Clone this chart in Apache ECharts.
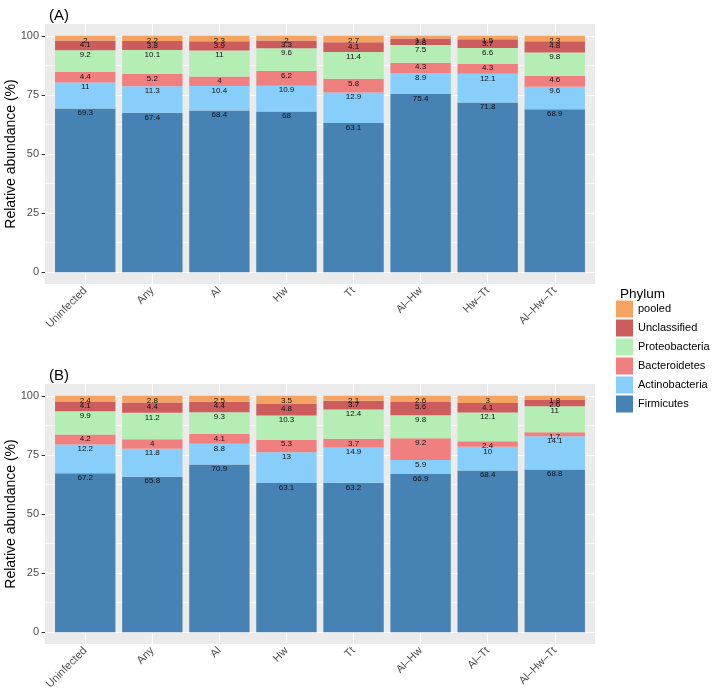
<!DOCTYPE html>
<html>
<head>
<meta charset="utf-8">
<script src="https://cdn.jsdelivr.net/npm/echarts@6/dist/echarts.min.js"></script>
<style>html,body{margin:0;padding:0;background:#fff}#c{width:716px;height:695px}</style>
</head>
<body>
<div id="c"></div>
<script>
const categoriesA = ['Uninfected','Any','Al','Hw','Tt','Al–Hw','Hw–Tt','Al–Hw–Tt'];
const categoriesB = ['Uninfected','Any','Al','Hw','Tt','Al–Hw','Al–Tt','Al–Hw–Tt'];
const phyla = ['Firmicutes','Actinobacteria','Bacteroidetes','Proteobacteria','Unclassified','pooled'];
const legendOrder = ['pooled','Unclassified','Proteobacteria','Bacteroidetes','Actinobacteria','Firmicutes'];
const phylumColors = {Firmicutes:'#4682B4',Actinobacteria:'#87CEFA',Bacteroidetes:'#F08080',Proteobacteria:'#B4EEB4',Unclassified:'#CD5C5C',pooled:'#F4A460'};

const firmicutesA = [69.3,67.4,68.4,68,63.1,75.4,71.8,68.9];
const actinobacteriaA = [11,11.3,10.4,10.9,12.9,8.9,12.1,9.6];
const bacteroidetesA = [4.4,5.2,4,6.2,5.8,4.3,4.3,4.6];
const proteobacteriaA = [9.2,10.1,11,9.6,11.4,7.5,6.6,9.8];
const unclassifiedA = [4.1,3.8,3.9,3.3,4.1,2.8,3.7,4.8];
const pooledA = [2,2.2,2.3,2,2.7,1.1,1.5,2.3];

const firmicutesB = [67.2,65.8,70.9,63.1,63.2,66.9,68.4,68.8];
const actinobacteriaB = [12.2,11.8,8.8,13,14.9,5.9,10,14.1];
const bacteroidetesB = [4.2,4,4.1,5.3,3.7,9.2,2.4,1.7];
const proteobacteriaB = [9.9,11.2,9.3,10.3,12.4,9.8,12.1,11];
const unclassifiedB = [4.1,4.4,4.4,4.8,3.7,5.6,4.1,2.6];
const pooledB = [2.4,2.8,2.5,3.5,2.1,2.6,3,1.8];

const yTicks = [0,25,50,75,100];
const yTickLabels = ['0','25','50','75','100'];

const panelA = [firmicutesA,actinobacteriaA,bacteroidetesA,proteobacteriaA,unclassifiedA,pooledA];
const panelB = [firmicutesB,actinobacteriaB,bacteroidetesB,proteobacteriaB,unclassifiedB,pooledB];

const FONT = 'Liberation Sans';
const chart = echarts.init(document.getElementById('c'), null, {renderer:'canvas'});

const catsList = [categoriesA, categoriesB];
const panelLeft = 45, panelWidth = 550, panelHeight = 260, panelTops = [24, 384];
const expand = 0.6; // ggplot discrete expansion
const unit = panelWidth / (categoriesA.length - 1 + 2 * expand);

const grids = [], xAxes = [], yAxes = [], series = [];
panelTops.forEach((top, i) => {
  grids.push({left:panelLeft, top:top, width:panelWidth, height:panelHeight, show:true,
    backgroundColor:'#EBEBEB', borderWidth:0, outerBoundsMode:'none', containLabel:false, z:0});
});
panelTops.forEach((top, i) => {
  const n = catsList[i].length;
  grids.push({left:panelLeft + (expand - 0.5) * unit, top:top, width:n * unit, height:panelHeight,
    show:false, outerBoundsMode:'none', containLabel:false});
});

[0,1].forEach(i => {
  const cats = catsList[i];
  xAxes.push({type:'value', gridIndex:i, min:1 - expand, max:cats.length + expand,
    axisLine:{show:false}, splitLine:{show:false}, axisTick:{show:false}, axisLabel:{show:false}});
  yAxes.push({type:'value', gridIndex:i, min:-5, max:105,
    name:'Relative abundance (%)', nameLocation:'middle', nameGap:27, nameMoveOverlap:false,
    nameTextStyle:{fontSize:14, color:'#000', fontFamily:FONT},
    axisLine:{show:false}, splitLine:{show:false},
    axisTick:{show:true, customValues:yTicks, length:3.5, lineStyle:{color:'#333333', width:1}},
    axisLabel:{show:true, customValues:yTicks, margin:6, color:'#4D4D4D', fontSize:11, fontFamily:FONT,
      formatter:(v) => yTickLabels[yTicks.indexOf(v)]}});
});
[0,1].forEach(i => {
  const cats = catsList[i];
  xAxes.push({type:'category', gridIndex:2 + i, data:cats, boundaryGap:true,
    axisLine:{show:false}, splitLine:{show:false},
    axisTick:{show:true, alignWithLabel:true, interval:0, length:3.5, lineStyle:{color:'#333333', width:1}},
    axisLabel:{show:true, interval:0, rotate:45, margin:5, color:'#4D4D4D', fontSize:11, fontFamily:FONT}});
  yAxes.push({type:'value', gridIndex:2 + i, min:-5, max:105,
    axisLine:{show:false}, splitLine:{show:false}, axisTick:{show:false}, axisLabel:{show:false}});
});

[0,1].forEach(i => {
  const cats = catsList[i];
  const minor = [];
  for (let k = 0; k < yTicks.length - 1; k++) minor.push((yTicks[k] + yTicks[k+1]) / 2);
  series.push({
    type:'line', xAxisIndex:i, yAxisIndex:i, data:[], z:1, silent:true,
    markLine:{
      z:1, silent:true, symbol:'none', animation:false, label:{show:false},
      emphasis:{disabled:true},
      data: [
        ...minor.map(v => ({yAxis:v, lineStyle:{color:'#FFFFFF', width:0.6, type:'solid'}})),
        ...yTicks.map(v => ({yAxis:v, lineStyle:{color:'#FFFFFF', width:1.1, type:'solid'}})),
        ...cats.map((_, k) => ({xAxis:k + 1, lineStyle:{color:'#FFFFFF', width:1.1, type:'solid'}}))
      ]
    }
  });
});

[panelA, panelB].forEach((panel, i) => {
  phyla.forEach((ph, j) => {
    series.push({
      name:ph, type:'bar', stack:'s' + i, xAxisIndex:2 + i, yAxisIndex:2 + i, z:3,
      barWidth:'90%',
      itemStyle:{color:phylumColors[ph]},
      label:{show:true, position:'insideTop', distance:0.5, color:'#111', fontSize:8, fontFamily:FONT},
      emphasis:{disabled:true},
      data: panel[j]
    });
  });
});

chart.setOption({
  animation:false,
  backgroundColor:'#FFFFFF',
  textStyle:{fontFamily:FONT},
  title:[
    {text:'(A)', left:44, top:3, textStyle:{fontSize:15, fontWeight:'normal', color:'#000', fontFamily:FONT}},
    {text:'(B)', left:44, top:363, textStyle:{fontSize:15, fontWeight:'normal', color:'#000', fontFamily:FONT}},
    {text:'Phylum', left:615, top:282, textStyle:{fontSize:13.5, fontWeight:'normal', color:'#000', fontFamily:FONT}}
  ],
  legend:{
    orient:'vertical', left:616, top:300.5, padding:0, itemGap:2, itemWidth:17, itemHeight:17,
    icon:'rect', selectedMode:false,
    data:legendOrder,
    textStyle:{fontSize:11, color:'#000', fontFamily:FONT, padding:[0,0,0,0]}
  },
  grid:grids,
  xAxis:xAxes,
  yAxis:yAxes,
  series:series
});
</script>
</body>
</html>
